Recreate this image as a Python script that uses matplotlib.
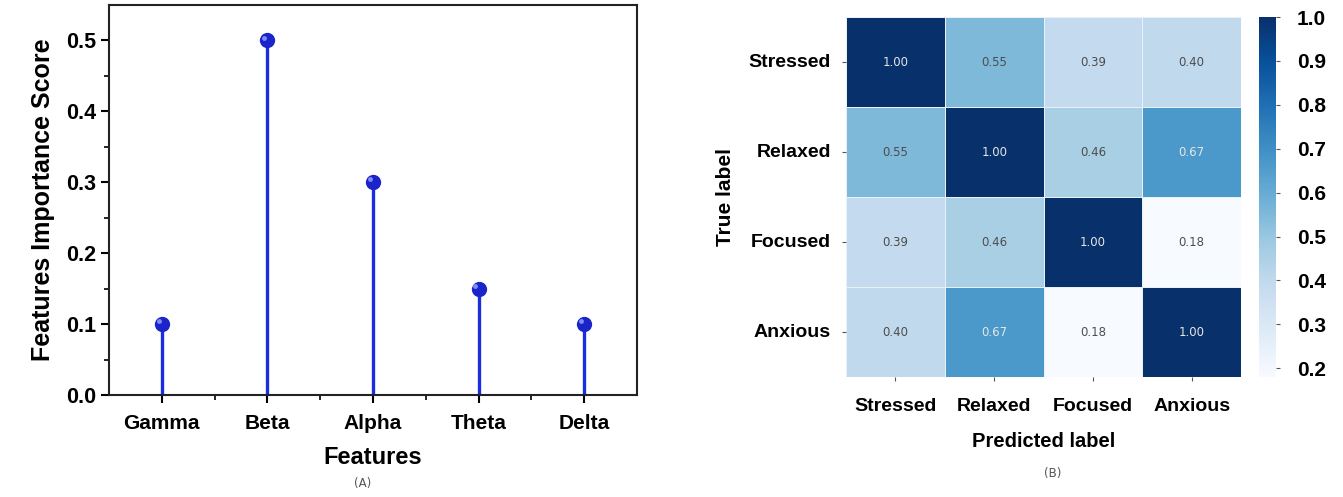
import matplotlib.pyplot as plt
import numpy as np
import seaborn as sns

# feature importance scores
features = ['Gamma', 'Beta', 'Alpha', 'Theta', 'Delta']
scores = [0.10, 0.50, 0.30, 0.15, 0.10]

# confusion-style correlation matrix
states = ['Stressed', 'Relaxed', 'Focused', 'Anxious']
matrix = [[1.00, 0.55, 0.39, 0.40],
          [0.55, 1.00, 0.46, 0.67],
          [0.39, 0.46, 1.00, 0.18],
          [0.40, 0.67, 0.18, 1.00]]
cbar_ticks = [0.2, 0.3, 0.4, 0.5, 0.6, 0.7, 0.8, 0.9, 1.0]

plt.rcParams['font.family'] = ['Liberation Sans', 'DejaVu Sans']

fig = plt.figure(figsize=(13.43, 4.97), dpi=100)

# (A) lollipop plot
ax1 = fig.add_axes([0.0812, 0.2052, 0.3931, 0.7847])
x = np.arange(len(features))
stem_col = '#1a2ee0'
ax1.vlines(x, 0, scores, color=stem_col, lw=2.4, zorder=2)
ax1.plot(x, scores, 'o', ms=10, color='#1a24c8', zorder=3)
# small highlight to give the markers a shaded look
ax1.plot(x - 0.03, np.array(scores) + 0.004, 'o', ms=3.5, color='#9aa6ff',
         alpha=0.8, zorder=4, mec='none')
ax1.set_xlim(-0.5, 4.5)
ax1.set_ylim(0, 0.55)
ax1.set_xticks(x)
ax1.set_xticklabels(features, fontsize=15, fontweight='bold')
ax1.set_xticks(x[:-1] + 0.5, minor=True)
ax1.set_yticks([0.0, 0.1, 0.2, 0.3, 0.4, 0.5])
ax1.set_yticklabels(['0.0', '0.1', '0.2', '0.3', '0.4', '0.5'],
                    fontsize=15.5, fontweight='bold')
ax1.set_yticks(np.arange(0.05, 0.55, 0.1), minor=True)
ax1.tick_params(axis='both', which='major', length=6, width=1.5, direction='out')
ax1.tick_params(axis='both', which='minor', length=3.5, width=1.2, direction='out')
ax1.tick_params(axis='x', pad=8)
for s in ax1.spines.values():
    s.set_linewidth(1.5)
    s.set_color('#222222')
ax1.set_xlabel('Features', fontsize=17, fontweight='bold', labelpad=9)
ax1.set_ylabel('Features Importance Score', fontsize=18, fontweight='bold', labelpad=8)
fig.text(0.270, 0.02, '(A)', fontsize=8.5, color='#555555', ha='center',
         family='DejaVu Sans')

# (B) heatmap
ax2 = fig.add_axes([0.630, 0.2414, 0.2941, 0.7243])
cax = fig.add_axes([0.9375, 0.2414, 0.0127, 0.7243])
sns.heatmap(np.array(matrix), ax=ax2, cbar_ax=cax, cmap='Blues', vmin=0.18, vmax=1.0,
            annot=True, fmt='.2f', linewidths=0.6, linecolor='#e8f0f8',
            annot_kws={'fontsize': 8.5, 'family': 'DejaVu Sans'})
for t in ax2.texts:
    t.set_color('#e6e6e6' if t.get_text() in ('1.00', '0.67') else '#4d4d4d')
ax2.set_xticklabels(states, fontsize=14, fontweight='bold', rotation=0)
ax2.set_yticklabels(states, fontsize=14, fontweight='bold', rotation=0)
ax2.tick_params(axis='both', length=3, width=0.8, color='#555555')
ax2.tick_params(axis='x', pad=12)
ax2.tick_params(axis='y', pad=8)
ax2.set_xlabel('Predicted label', fontsize=14.5, fontweight='bold', labelpad=12)
ax2.set_ylabel('True label', fontsize=15, fontweight='bold', labelpad=10)
cax.set_yticks(cbar_ticks)
cax.set_yticklabels(['%.1f' % v for v in cbar_ticks], fontsize=15, fontweight='bold')
cax.tick_params(length=3, width=0.8, color='#555555', pad=12)
fig.text(0.784, 0.04, '(B)', fontsize=8.5, color='#555555', ha='center',
         family='DejaVu Sans')

fig.savefig('out.png', dpi=100)
